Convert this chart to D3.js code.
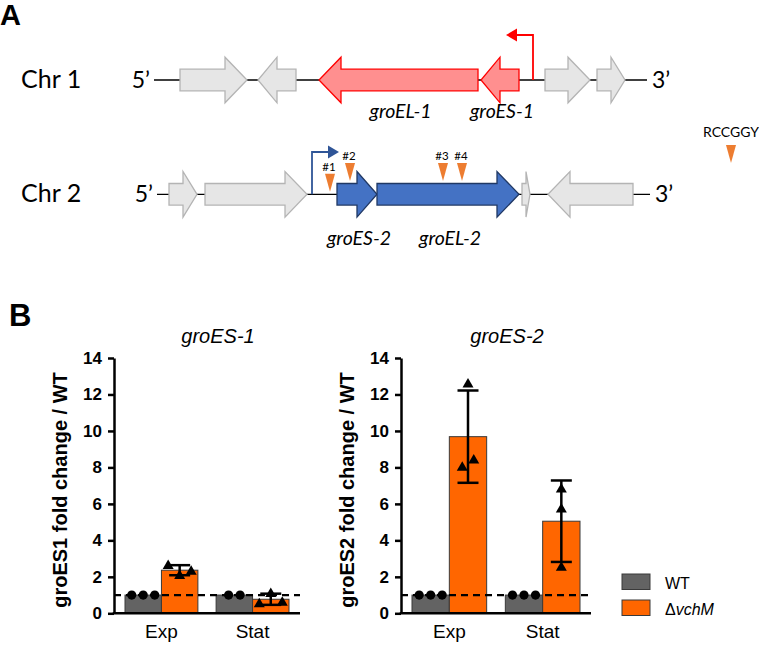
<!DOCTYPE html>
<html>
<head>
<meta charset="utf-8">
<script src="https://cdn.jsdelivr.net/npm/d3@7"></script>
<style>
  html, body { margin: 0; padding: 0; background: #fff; }
  svg { display: block; }
</style>
</head>
<body>
<svg id="fig" width="759" height="647"></svg>
<script>
// ---------------- DATA ----------------
// Panel A: gene maps (map units along each chromosome segment)
const chr1Segment = [4, 497];
const chr1Genes = [
  { name: "",        start: 30,  end: 97,  strand: 1,  kind: "other" },
  { name: "",        start: 108, end: 146, strand: -1, kind: "other" },
  { name: "groEL-1", start: 169, end: 328, strand: -1, kind: "red" },
  { name: "groES-1", start: 331, end: 369, strand: -1, kind: "red" },
  { name: "",        start: 395, end: 440, strand: 1,  kind: "other" },
  { name: "",        start: 447, end: 475, strand: 1,  kind: "other" }
];
const chr1Promoter = { pos: 383, strand: -1, kind: "red" };

const chr2Segment = [7, 500];
const chr2Genes = [
  { name: "",        start: 19,  end: 47,  strand: 1,  kind: "other" },
  { name: "",        start: 55,  end: 157, strand: 1,  kind: "other" },
  { name: "groES-2", start: 187, end: 227, strand: 1,  kind: "blue" },
  { name: "groEL-2", start: 227, end: 369, strand: 1,  kind: "blue" },
  { name: "",        start: 372, end: 380, strand: 1,  kind: "other" },
  { name: "",        start: 398, end: 483, strand: -1, kind: "other" }
];
const chr2Promoter = { pos: 162, strand: 1, kind: "blue" };
const chr2Sites = [
  { label: "#1", pos: 180 },
  { label: "#2", pos: 200 },
  { label: "#3", pos: 293 },
  { label: "#4", pos: 312 }
];
const motifLabel = "RCCGGY";

// Panel B: qRT-PCR fold change (individual replicates)
const groups = ["Exp", "Stat"];
const strains = ["WT", "ΔvchM"];
const groES1_WT   = [[1.0, 1.0, 1.0], [1.0, 1.0]];
const groES1_vchM = [[2.65, 2.10, 2.34], [0.55, 1.12, 0.64]];
const groES2_WT   = [[1.0, 1.0, 1.0], [1.0, 1.0, 1.0]];
const groES2_vchM = [[12.60, 8.03, 8.43], [2.55, 5.75, 6.85]];
const yTicks = [0, 2, 4, 6, 8, 10, 12, 14];
const referenceLevel = 1;

// ---------------- STYLE ----------------
const mapFont = "Lato, 'Open Sans', 'DejaVu Sans', sans-serif";
const chartFont = "'Liberation Sans', Arial, sans-serif";
const geneStyle = {
  other: { fill: "#e6e6e6", stroke: "#b4b4b4" },
  red:   { fill: "#ff8f8f", stroke: "#ff0000" },
  blue:  { fill: "#4472c4", stroke: "#203864" }
};
const promoterColor = { red: "#ff0000", blue: "#2f5597" };
const siteColor = "#ed7d31";
const strainColor = { "WT": "#636363", "ΔvchM": "#ff6600" };

const svg = d3.select("#fig");

// ---------------- PANEL A ----------------
const xMap = d3.scaleLinear().domain([0, 500]).range([150, 650]);
const BODY = 10.8, HEAD = 22.8, HEADLEN = 22;

function genePath(g, y) {
  const a = xMap(g.start), b = xMap(g.end);
  const h = Math.min(HEADLEN, (b - a) / 2);
  if (g.strand > 0) {
    return `M${a},${y - BODY}L${b - h},${y - BODY}L${b - h},${y - HEAD}L${b},${y}` +
           `L${b - h},${y + HEAD}L${b - h},${y + BODY}L${a},${y + BODY}Z`;
  } else {
    return `M${b},${y - BODY}L${a + h},${y - BODY}L${a + h},${y - HEAD}L${a},${y}` +
           `L${a + h},${y + HEAD}L${a + h},${y + BODY}L${b},${y + BODY}Z`;
  }
}

function drawChromosome(label, segment, genes, promoter, y, labelY, promTop) {
  const g = svg.append("g");
  g.append("text").attr("x", 21).attr("y", y + 7.5).attr("font-family", mapFont)
    .attr("font-size", 25).attr("fill", "#000").text(label);
  g.append("text").attr("x", xMap(segment[0]) - 4).attr("y", y + 8).attr("text-anchor", "end")
    .attr("font-family", mapFont).attr("font-size", 23).text("5’");
  g.append("text").attr("x", xMap(segment[1]) + 5).attr("y", y + 8)
    .attr("font-family", mapFont).attr("font-size", 23).text("3’");
  g.append("line").attr("x1", xMap(segment[0])).attr("x2", xMap(segment[1]))
    .attr("y1", y).attr("y2", y).attr("stroke", "#000").attr("stroke-width", 1.3);

  // promoter bent arrow
  const px = xMap(promoter.pos), col = promoterColor[promoter.kind];
  const tipX = px + promoter.strand * 27;
  g.append("path")
    .attr("d", `M${px},${y}L${px},${promTop}L${tipX - promoter.strand * 10},${promTop}`)
    .attr("fill", "none").attr("stroke", col).attr("stroke-width", 1.8);
  g.append("path")
    .attr("d", `M${tipX},${promTop}L${tipX - promoter.strand * 11},${promTop - 6.5}L${tipX - promoter.strand * 11},${promTop + 6.5}Z`)
    .attr("fill", col);

  g.selectAll("path.gene").data(genes).join("path").attr("class", "gene")
    .attr("d", d => genePath(d, y))
    .attr("fill", d => geneStyle[d.kind].fill)
    .attr("stroke", d => geneStyle[d.kind].stroke)
    .attr("stroke-width", 1.3).attr("stroke-linejoin", "miter");

  g.selectAll("text.gname").data(genes.filter(d => d.name)).join("text").attr("class", "gname")
    .attr("x", d => xMap((d.start + d.end) / 2) + 2).attr("y", labelY)
    .attr("text-anchor", "middle").attr("font-family", mapFont).attr("font-style", "italic")
    .attr("font-size", 19.5).text(d => d.name);
  return g;
}

// Panel label A
svg.append("text").attr("x", 0).attr("y", 25).attr("font-family", chartFont)
  .attr("font-weight", "bold").attr("font-size", 29).text("A");

drawChromosome("Chr 1", chr1Segment, chr1Genes, chr1Promoter, 80, 118, 35);
drawChromosome("Chr 2", chr2Segment, chr2Genes, chr2Promoter, 194.3, 245, 152);

// methylation sites on chr2
function siteTip(pos, y) {
  const inGene = chr2Genes.find(g => pos >= g.start && pos <= g.end);
  return inGene ? y - BODY - 2.5 : y - 2.5;
}
const TRI_W = 10, TRI_H = 18;
function downTri(cx, tipY) {
  return `M${cx - TRI_W / 2},${tipY - TRI_H}L${cx + TRI_W / 2},${tipY - TRI_H}L${cx},${tipY}Z`;
}
const sitesG = svg.append("g");
chr2Sites.forEach(s => {
  const cx = xMap(s.pos), tip = siteTip(s.pos, 194.3);
  sitesG.append("path").attr("d", downTri(cx, tip)).attr("fill", siteColor);
  sitesG.append("text").attr("x", cx - 1).attr("y", tip - TRI_H - 3).attr("text-anchor", "middle")
    .attr("font-family", mapFont).attr("font-size", 11.5).text(s.label);
});
// motif legend
svg.append("text").attr("x", 731).attr("y", 137).attr("text-anchor", "middle")
  .attr("font-family", mapFont).attr("font-size", 14).text(motifLabel);
svg.append("path").attr("d", downTri(731, 163)).attr("fill", siteColor);

// ---------------- PANEL B ----------------
svg.append("text").attr("x", 9).attr("y", 326).attr("font-family", chartFont)
  .attr("font-weight", "bold").attr("font-size", 31).text("B");

const y = d3.scaleLinear().domain([0, 14]).range([613.3, 358]);

function mean(a) { return d3.mean(a); }
function sd(a) { return a.length > 1 ? d3.deviation(a) : 0; }

function swarmOffsets(vals, step) {
  // cluster points whose pixel positions overlap, then spread each cluster symmetrically
  const px = vals.map(v => y(v));
  const idx = vals.map((v, i) => i).sort((a, b) => px[a] - px[b]);
  const clusters = [];
  idx.forEach(i => {
    const last = clusters[clusters.length - 1];
    if (last && Math.abs(px[i] - px[last[last.length - 1]]) < 10) last.push(i);
    else clusters.push([i]);
  });
  const off = new Array(vals.length).fill(0);
  clusters.forEach(c => {
    const members = c.slice().sort((a, b) => a - b);
    members.forEach((i, k) => { off[i] = (k - (members.length - 1) / 2) * step; });
  });
  return off;
}

function drawChart(x0, x1, title, yTitle, wtData, mutData) {
  const g = svg.append("g");
  const gx = d3.scaleBand().domain(groups).range([x0 + 11, x1 - 11]).paddingInner(0.2);
  const sx = d3.scaleBand().domain(strains).range([0, gx.bandwidth()]);
  const dataBy = { "WT": wtData, "ΔvchM": mutData };

  const bars = [];
  groups.forEach((grp, gi) => strains.forEach(st => {
    const vals = dataBy[st][gi];
    bars.push({ grp, st, vals, m: mean(vals), s: sd(vals) });
  }));

  // bars
  g.selectAll("rect.bar").data(bars).join("rect").attr("class", "bar")
    .attr("x", d => gx(d.grp) + sx(d.st))
    .attr("width", sx.bandwidth())
    .attr("y", d => y(d.m))
    .attr("height", d => y(0) - y(d.m))
    .attr("fill", d => strainColor[d.st])
    .attr("stroke", "#3a3a3a").attr("stroke-width", 1);

  // reference dashed line
  g.append("line").attr("x1", x0).attr("x2", x1)
    .attr("y1", y(referenceLevel)).attr("y2", y(referenceLevel))
    .attr("stroke", "#000").attr("stroke-width", 2.3).attr("stroke-dasharray", "7,5");

  // error bars (mean ± SD)
  bars.filter(d => d.s > 1e-6).forEach(d => {
    const cx = gx(d.grp) + sx(d.st) + sx.bandwidth() / 2;
    const top = y(d.m + d.s), bot = y(d.m - d.s);
    g.append("line").attr("x1", cx).attr("x2", cx).attr("y1", top).attr("y2", bot)
      .attr("stroke", "#000").attr("stroke-width", 2.5);
    [top, bot].forEach(yy => g.append("line").attr("x1", cx - 10.5).attr("x2", cx + 10.5)
      .attr("y1", yy).attr("y2", yy).attr("stroke", "#000").attr("stroke-width", 2.5));
  });

  // replicate points
  bars.forEach(d => {
    const cx = gx(d.grp) + sx(d.st) + sx.bandwidth() / 2;
    const off = swarmOffsets(d.vals, 11.5);
    d.vals.forEach((v, i) => {
      const px = cx + off[i], py = y(v);
      if (d.st === "WT") {
        g.append("circle").attr("cx", px).attr("cy", py).attr("r", 4.6).attr("fill", "#000");
      } else {
        g.append("path").attr("d", `M${px},${py - 5.5}L${px + 5.5},${py + 4}L${px - 5.5},${py + 4}Z`)
          .attr("fill", "#000");
      }
    });
  });

  // y axis
  const ya = g.append("g").attr("transform", `translate(${x0},0)`)
    .call(d3.axisLeft(y).tickValues(yTicks).tickSize(6).tickSizeOuter(0).tickPadding(6));
  ya.select(".domain").attr("stroke-width", 2.5).attr("stroke", "#000");
  ya.selectAll(".tick line").attr("stroke-width", 2.5).attr("stroke", "#000");
  ya.selectAll(".tick text").attr("font-family", chartFont).attr("font-weight", "bold")
    .attr("font-size", 17).attr("fill", "#000");

  // x axis baseline + labels
  g.append("line").attr("x1", x0 - 1.25).attr("x2", x1).attr("y1", y(0)).attr("y2", y(0))
    .attr("stroke", "#000").attr("stroke-width", 2.5);
  const xa = g.append("g").attr("transform", `translate(0,${y(0)})`)
    .call(d3.axisBottom(gx).tickSize(0).tickPadding(11));
  xa.select(".domain").remove();
  xa.selectAll(".tick text").attr("font-family", chartFont).attr("font-size", 19).attr("fill", "#000");

  // titles
  g.append("text").attr("x", (x0 + x1) / 2 + 11).attr("y", 343).attr("text-anchor", "middle")
    .attr("font-family", chartFont).attr("font-style", "italic").attr("font-size", 20).text(title);
  g.append("text").attr("transform", `translate(${x0 - 47},${490}) rotate(-90)`)
    .attr("text-anchor", "middle").attr("font-family", chartFont).attr("font-weight", "bold")
    .attr("font-size", 20).text(yTitle);
}

drawChart(114, 300, "groES-1", "groES1 fold change / WT", groES1_WT, groES1_vchM);
drawChart(401, 591, "groES-2", "groES2 fold change / WT", groES2_WT, groES2_vchM);

// legend
const lg = svg.append("g");
strains.forEach((st, i) => {
  const yy = 574 + i * 26;
  lg.append("rect").attr("x", 622).attr("y", yy).attr("width", 28).attr("height", 15.5)
    .attr("fill", strainColor[st]).attr("stroke", "#3a3a3a").attr("stroke-width", 1);
  const t = lg.append("text").attr("x", 665).attr("y", yy + 15)
    .attr("font-family", chartFont).attr("font-size", 16).attr("fill", "#000");
  if (st.startsWith("Δ")) {
    t.append("tspan").text("Δ");
    t.append("tspan").attr("font-style", "italic").text(st.slice(1));
  } else {
    t.text(st);
  }
});
</script>
</body>
</html>
